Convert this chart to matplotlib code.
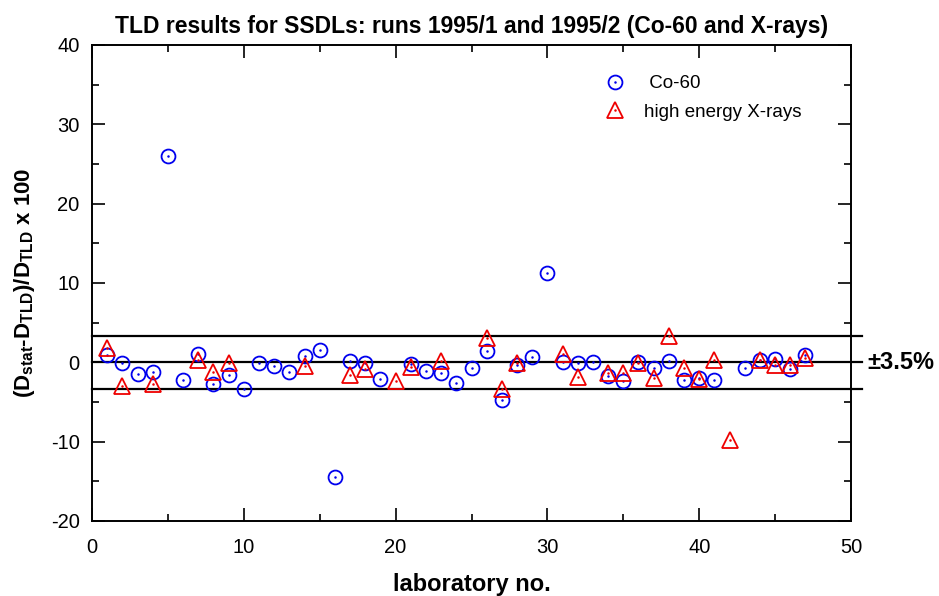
import numpy as np
import matplotlib
matplotlib.use('Agg')
import matplotlib.pyplot as plt
from matplotlib.lines import Line2D
from matplotlib.ticker import MultipleLocator

plt.rcParams['font.family'] = ['Liberation Sans', 'DejaVu Sans']
plt.rcParams['mathtext.fontset'] = 'custom'
plt.rcParams['mathtext.rm'] = 'Liberation Sans:bold'
plt.rcParams['mathtext.it'] = 'Liberation Sans:bold'
plt.rcParams['mathtext.bf'] = 'Liberation Sans:bold'
plt.rcParams['axes.unicode_minus'] = False

# ── data ─────────────────────────────────────────────────────────────────────
co_lab = [1, 2, 3, 4, 5, 6, 7, 8, 9, 10, 11, 12, 13, 14, 15, 16, 17, 18, 19,
          21, 22, 23, 24, 25, 26, 27, 28, 29, 30, 31, 32, 33, 34, 35, 36, 37,
          38, 39, 40, 41, 43, 44, 45, 46, 47]
co_val = [0.9, -0.1, -1.5, -1.2, 26.0, -2.2, 1.0, -2.7, -1.6, -3.4, -0.1,
          -0.4, -1.2, 0.8, 1.5, -14.4, 0.2, -0.1, -2.1, -0.2, -1.1, -1.3,
          -2.6, -0.7, 1.4, -4.7, -0.3, 0.7, 11.2, 0.0, -0.1, 0.1, -1.7, -2.4,
          0.0, -0.7, 0.2, -2.2, -2.0, -2.2, -0.7, 0.3, 0.4, -0.8, 0.9]

xr_lab = [1, 2, 4, 7, 8, 9, 14, 17, 18, 20, 21, 23, 26, 27, 28, 31, 32, 34,
          35, 36, 37, 38, 39, 40, 41, 42, 44, 45, 46, 47]
xr_val = [1.8, -3.0, -2.7, 0.3, -1.2, -0.1, -0.5, -1.6, -0.8, -2.4, -0.6,
          0.2, 3.1, -3.3, -0.1, 1.0, -1.8, -1.3, -1.4, -0.1, -2.0, 3.3, -0.7,
          -2.1, 0.3, -9.8, 0.3, -0.3, -0.3, 0.5]

band = 3.3

CO_STYLE = dict(ls='none', marker='o', ms=10, mfc='none', mec='#0000ee', mew=1.3)
XR_STYLE = dict(ls='none', marker='^', ms=11.5, mfc='none', mec='#ee0000', mew=1.3)

# ── figure ───────────────────────────────────────────────────────────────────
fig = plt.figure(figsize=(9.39, 5.96), dpi=100)
ax = fig.add_axes([92 / 939, 1 - 521 / 596, 759 / 939, 476 / 596])

for y in (-band, 0, band):
    ax.plot([0, 50.7], [y, y], color='black', lw=1.6, clip_on=False, zorder=1)

ax.plot(co_lab, co_val, zorder=3, **CO_STYLE)
ax.plot(co_lab, co_val, ls='none', marker='o', ms=1.8, color='#0000ee',
        mew=0, zorder=3)
ax.plot(xr_lab, xr_val, zorder=4, **XR_STYLE)
ax.plot(xr_lab, xr_val, ls='none', marker='o', ms=1.8, color='#ee0000',
        mew=0, zorder=4)

ax.set_xlim(0, 50)
ax.set_ylim(-20, 40)
ax.xaxis.set_major_locator(MultipleLocator(10))
ax.xaxis.set_minor_locator(MultipleLocator(5))
ax.yaxis.set_major_locator(MultipleLocator(10))
ax.yaxis.set_minor_locator(MultipleLocator(5))
ax.tick_params(which='both', direction='in', top=True, right=True,
               labelsize=14.5, width=1.2)
ax.tick_params(which='major', length=9.5)
ax.tick_params(axis='x', which='major', pad=12)
ax.tick_params(axis='y', which='major', pad=9)
ax.tick_params(which='minor', length=5)
for s in ax.spines.values():
    s.set_linewidth(1.4)

ax.set_title('TLD results for SSDLs: runs 1995/1 and 1995/2 (Co-60 and X-rays)',
             fontsize=16.5, fontweight='bold', pad=9)
ax.set_xlabel('laboratory no.', fontsize=17, fontweight='bold', labelpad=12)
ax.set_ylabel(r'(D$_{stat}$-D$_{TLD}$)/D$_{TLD}$ x 100', fontsize=16,
              fontweight='bold', labelpad=10)

ax.text(1.022, (0 + 20) / 60, '\u00b13.5%', transform=ax.transAxes,
        fontsize=17, fontweight='bold', va='center', ha='left')

h_co = (Line2D([], [], **CO_STYLE),
        Line2D([], [], ls='none', marker='o', ms=1.8, color='#0000ee', mew=0))
h_xr = (Line2D([], [], **XR_STYLE),
        Line2D([], [], ls='none', marker='o', ms=1.8, color='#ee0000', mew=0))
ax.legend([h_co, h_xr], [' Co-60', 'high energy X-rays'], loc='upper left',
          bbox_to_anchor=(0.655, 0.972), frameon=False, fontsize=13.5,
          handlelength=1.0, handletextpad=1.0, labelspacing=0.6)

fig.savefig('out.png', dpi=100)
